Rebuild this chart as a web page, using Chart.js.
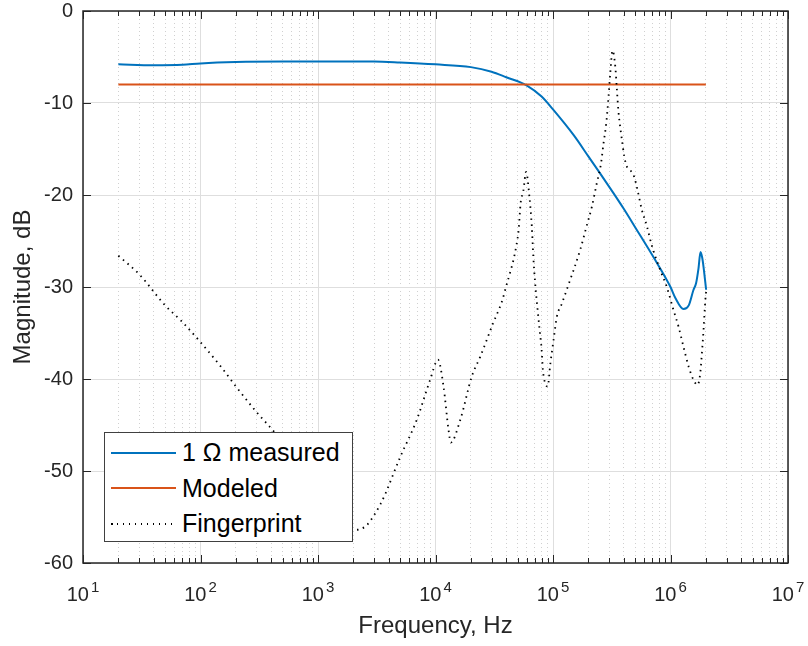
<!DOCTYPE html>
<html lang="en">
<head>
<meta charset="UTF-8">
<title>Magnitude vs frequency</title>
<script src="https://cdn.jsdelivr.net/npm/chart.js"></script>
<style>
  body { margin: 0; background: #fff; }
  #wrap { position: relative; width: 808px; height: 646px; font-family: "Liberation Sans", Arial, sans-serif; }
  #legend { position: absolute; left: 104px; top: 432px; width: 247px; height: 106px; border: 1px solid #404040; background: #fff; padding-top: 2px; }
  .row { display: flex; align-items: center; height: 35.5px; font-size: 25px; color: #000; white-space: nowrap; }
  .swatch { width: 65px; height: 2px; margin-left: 6px; margin-right: 6px; }
</style>
</head>
<body>
<div id="wrap">
  <canvas id="chart" width="808" height="646"></canvas>
  <div id="legend">
    <div class="row"><span class="swatch" style="background:#0072BD"></span>1 Ω measured</div>
    <div class="row"><span class="swatch" style="background:#D95319"></span>Modeled</div>
    <div class="row"><span class="swatch" style="height:2px;background:repeating-linear-gradient(to right,#000 0 1.5px,transparent 1.5px 6px)"></span>Fingerprint</div>
  </div>
</div>
<script>
// values (Hz, dB)
const measuredFreq = [20, 40, 70, 100, 200, 500, 1000, 3000, 5000, 10000, 20000, 30000, 40000, 60000, 80000,
  100000, 150000, 200000, 250000, 327000, 400000, 500000, 720000, 1000000, 1100000, 1290000,
  1430000, 1570000, 1650000, 1730000, 1800000, 1860000, 1910000, 2010000];
const measuredDb = [-5.8, -5.9, -5.85, -5.7, -5.55, -5.5, -5.5, -5.5, -5.6, -5.8, -6.1, -6.6, -7.2, -8.1, -9.3,
  -10.7, -13.5, -15.8, -17.6, -19.8, -21.5, -23.5, -26.8, -30.0, -31.2, -32.4,
  -32.0, -30.3, -29.6, -28.0, -26.2, -26.8, -27.8, -30.3];

const modeledFreq = [20, 2000000];
const modeledDb = [-8, -8];

const fingerprintFreq = [20, 30, 50, 70, 100, 150, 200, 300, 420, 600, 1000, 1500, 2000, 2300, 2600, 3000,
  3400, 3800, 4200, 5000, 6900, 9000, 10500, 11700, 12900, 13500, 16200, 20400, 24000, 31000, 36700,
  40000, 43000, 46000, 48600, 51000, 53000, 56000, 59000, 63000, 66000, 68000, 70500, 74000, 77000,
  80000, 82000, 86000, 90000, 95000, 101000, 108000, 119000, 135000, 170000, 194000, 214000, 236000,
  256000, 269000, 284000, 297000, 307000, 321000, 339000, 350000, 360000, 373000, 386000, 404000,
  425000, 454000, 490000, 525000, 570000, 630000, 690000, 820000, 930000, 1060000, 1170000, 1290000,
  1430000, 1570000, 1700000, 1790000, 1850000, 1910000, 1980000, 2010000];
const fingerprintDb = [-26.6, -28.6, -32.0, -33.8, -36.0, -38.7, -40.8, -43.6, -45.7, -48.3, -52.0, -55.0,
  -56.4, -56.3, -55.9, -54.8, -53.6, -52.3, -50.9, -48.5, -44.5, -40.1, -37.9, -40.8, -45.5, -46.9, -44.5,
  -39.7, -37.6, -33.9, -31.6, -29.9, -28.5, -27.1, -25.6, -23.8, -20.9, -19.5, -17.5, -20.2, -23.4, -26.7,
  -29.6, -32.5, -34.7, -36.8, -39.0, -40.5, -40.8, -38.3, -35.8, -33.2, -31.8, -29.8, -26.0, -23.3, -21.3,
  -18.7, -16.6, -14.4, -12.2, -9.3, -6.8, -4.3, -6.05, -8.6, -10.8, -12.6, -14.0, -15.8, -16.9, -17.3,
  -18.0, -19.5, -21.6, -23.4, -25.4, -28.2, -30.0, -32.5, -34.3, -36.5, -38.7, -40.1, -40.65, -39.4,
  -37.2, -34.7, -31.4, -30.5];

const decades = [1, 2, 3, 4, 5, 6, 7];

const pts = (xs, ys) => xs.map((x, i) => ({ x: x, y: ys[i] }));
const isPow10 = v => Math.abs(Math.log10(v) - Math.round(Math.log10(v))) < 1e-9;
const ink = '#262626';
const font = '"Liberation Sans", Arial, sans-serif';

// inward ticks, box and 10^n labels like the original axes
const boxTicks = {
  id: 'boxTicks',
  afterDatasetsDraw(chart) {
    const { ctx, chartArea: a, scales: { x, y } } = chart;
    ctx.save();
    ctx.strokeStyle = ink;
    ctx.lineWidth = 1;
    ctx.beginPath();
    x.ticks.forEach(t => {
      const px = Math.round(x.getPixelForValue(t.value)) + 0.5;
      const len = isPow10(t.value) ? 8 : 5;
      ctx.moveTo(px, a.bottom); ctx.lineTo(px, a.bottom - len);
      ctx.moveTo(px, a.top); ctx.lineTo(px, a.top + len);
    });
    y.ticks.forEach(t => {
      const py = Math.round(y.getPixelForValue(t.value)) + 0.5;
      ctx.moveTo(a.left, py); ctx.lineTo(a.left + 8, py);
      ctx.moveTo(a.right, py); ctx.lineTo(a.right - 8, py);
    });
    ctx.stroke();
    ctx.lineWidth = 1.5;
    ctx.strokeRect(a.left, a.top, a.right - a.left, a.bottom - a.top);

    // decade labels with a raised exponent
    ctx.fillStyle = ink;
    ctx.textBaseline = 'alphabetic';
    ctx.textAlign = 'left';
    decades.forEach(e => {
      const px = x.getPixelForValue(Math.pow(10, e));
      ctx.font = '20px ' + font;
      const w1 = ctx.measureText('10').width;
      ctx.font = '15px ' + font;
      const w2 = ctx.measureText(String(e)).width;
      const start = px - (w1 + 2 + w2) / 2;
      ctx.font = '20px ' + font;
      ctx.fillText('10', start, a.bottom + 38);
      ctx.font = '15px ' + font;
      ctx.fillText(String(e), start + w1 + 2, a.bottom + 29);
    });
    ctx.restore();
  }
};

new Chart(document.getElementById('chart'), {
  type: 'line',
  data: {
    datasets: [
      {
        label: '1 Ω measured',
        data: pts(measuredFreq, measuredDb),
        borderColor: '#0072BD',
        borderWidth: 2,
        pointRadius: 0,
        cubicInterpolationMode: 'monotone',
        order: 3
      },
      {
        label: 'Modeled',
        data: pts(modeledFreq, modeledDb),
        borderColor: '#D95319',
        borderWidth: 2,
        pointRadius: 0,
        order: 2
      },
      {
        label: 'Fingerprint',
        data: pts(fingerprintFreq, fingerprintDb),
        borderColor: '#000',
        borderWidth: 1.8,
        borderDash: [1.5, 4.5],
        pointRadius: 0,
        cubicInterpolationMode: 'monotone',
        order: 1
      }
    ]
  },
  options: {
    responsive: false,
    animation: false,
    layout: { padding: { top: 11, right: 20, left: 0, bottom: 0 } },
    plugins: { legend: { display: false }, tooltip: { enabled: false } },
    scales: {
      x: {
        type: 'logarithmic',
        min: 10,
        max: 1e7,
        afterBuildTicks: scale => {
          const t = [];
          decades.forEach(e => {
            if (e === 7) { t.push({ value: 1e7 }); return; }
            for (let k = 1; k <= 9; k++) t.push({ value: k * Math.pow(10, e) });
          });
          scale.ticks = t;
        },
        afterFit: scale => {
          scale.height = 83;
          scale.paddingLeft = 0; scale.paddingRight = 0;
          scale.paddingTop = 0; scale.paddingBottom = 0;
        },
        ticks: {
          autoSkip: false,
          maxRotation: 0,
          padding: 19,
          color: ink,
          font: { family: font, size: 20 },
          callback: v => isPow10(v) ? ' ' : ''
        },
        grid: {
          drawTicks: false,
          color: c => (c.tick && !isPow10(c.tick.value)) ? '#d0d0d0' : '#dedede',
          lineWidth: 1
        },
        border: {
          display: false,
          dash: c => (c.tick && !isPow10(c.tick.value)) ? [1, 3] : []
        },
        title: {
          display: true,
          text: 'Frequency, Hz',
          color: ink,
          font: { family: font, size: 24 },
          padding: { top: 0, bottom: 5 }
        }
      },
      y: {
        min: -60,
        max: 0,
        afterFit: scale => {
          scale.width = 83;
          scale.paddingLeft = 0; scale.paddingRight = 0;
          scale.paddingTop = 0; scale.paddingBottom = 0;
        },
        ticks: {
          stepSize: 10,
          padding: 10,
          color: ink,
          font: { family: font, size: 20 }
        },
        grid: { drawTicks: false, color: '#dedede', lineWidth: 1 },
        border: { display: false },
        title: {
          display: true,
          text: 'Magnitude, dB',
          color: ink,
          font: { family: font, size: 24 },
          padding: { top: 9, bottom: 0 }
        }
      }
    }
  },
  plugins: [boxTicks]
});
</script>
</body>
</html>
